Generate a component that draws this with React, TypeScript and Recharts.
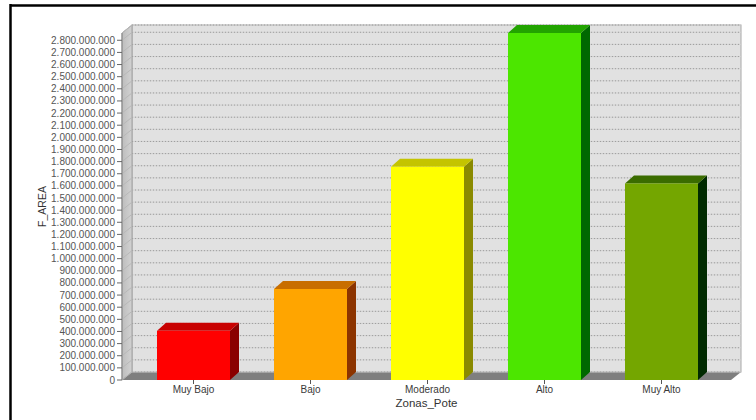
import React from "react";
import { BarChart, Bar, XAxis, YAxis, CartesianGrid } from "recharts";

// Zonas_Pote categories and their F_AREA totals
const categories = ["Muy Bajo", "Bajo", "Moderado", "Alto", "Muy Alto"];
const areas = [405000000, 750000000, 1757000000, 2860000000, 1620000000];
const yTicks = [
  0, 100000000, 200000000, 300000000, 400000000, 500000000, 600000000,
  700000000, 800000000, 900000000, 1000000000, 1100000000, 1200000000,
  1300000000, 1400000000, 1500000000, 1600000000, 1700000000, 1800000000,
  1900000000, 2000000000, 2100000000, 2200000000, 2300000000, 2400000000,
  2500000000, 2600000000, 2700000000, 2800000000,
];

// face colours of each 3D column: front / top / side
const FRONT = ["#ff0000", "#ffa500", "#ffff00", "#4ce600", "#74a600"];
const TOP = ["#c80000", "#c86e00", "#c4c400", "#22a400", "#3b6c00"];
const SIDE = ["#8a0000", "#8c3400", "#8a8a00", "#006800", "#002a00"];

const W = 756;
const H = 420;
// front face of the plot box
const PLOT = { left: 122, top: 33, right: 731, bottom: 380 };
// depth of the walls and of the columns
const WALL = { dx: 10, dy: 8 };
const BAR = { dx: 9, dy: 8 };
const FONT = '"Liberation Sans", Arial, sans-serif';

const data = categories.map((name, i) => ({ name, area: areas[i] }));

const fmtThousands = (v: number) =>
  String(v).replace(/\B(?=(\d{3})+(?!\d))/g, ".");

function Column3D(props: any) {
  const { x, y, width, height, index } = props;
  const { dx, dy } = BAR;
  const r = x + width;
  const b = y + height;
  return (
    <g>
      <path d={`M${r},${y} L${r + dx},${y - dy} L${r + dx},${b - dy} L${r},${b} Z`} fill={SIDE[index]} />
      <path d={`M${x},${y} L${x + dx},${y - dy} L${r + dx},${y - dy} L${r},${y} Z`} fill={TOP[index]} />
      <rect x={x} y={y} width={width} height={height} fill={FRONT[index]} />
    </g>
  );
}

// grid line: runs up the left wall, then across the back wall
function WallGridLine(p: any) {
  const { x1, x2, y1 } = p;
  const { dx, dy } = WALL;
  return (
    <g key={`g-${y1}`}>
      <line x1={x1} y1={y1} x2={x1 + dx} y2={y1 - dy} stroke="#b8b8b8" strokeWidth={1} />
      <line x1={x1 + dx} y1={y1 - dy} x2={x2 + dx} y2={y1 - dy} stroke="#d0d0d0" strokeWidth={1} />
      <line x1={x1 + dx} y1={y1 - dy} x2={x2 + dx} y2={y1 - dy} stroke="#9e9e9e" strokeWidth={1} strokeDasharray="1 2" />
    </g>
  );
}

function Walls() {
  const { left, top, right, bottom } = PLOT;
  const { dx, dy } = WALL;
  return (
    <svg width={W} height={H} style={{ position: "absolute", left: 0, top: 0 }}>
      <defs>
        <linearGradient id="leftWall" x1="0" y1="0" x2="1" y2="0">
          <stop offset="0" stopColor="#bdbdbd" />
          <stop offset="1" stopColor="#d2d2d2" />
        </linearGradient>
      </defs>
      <rect x={0} y={0} width={W} height={H} fill="#ffffff" />
      <line x1={10} y1={5.5} x2={W} y2={5.5} stroke="#000" strokeWidth={2.5} />
      <line x1={10.5} y1={4} x2={10.5} y2={H} stroke="#000" strokeWidth={2.5} />
      <rect
        x={left + dx}
        y={top - dy}
        width={right - left}
        height={bottom - top}
        fill="#e1e1e1"
        stroke="#a8a8a8"
      />
      <path
        d={`M${left},${top} L${left + dx},${top - dy} L${left + dx},${bottom - dy} L${left},${bottom} Z`}
        fill="url(#leftWall)"
        stroke="#a0a0a0"
      />
      <path
        d={`M${left},${bottom} L${left + dx},${bottom - dy} L${right + dx},${bottom - dy} L${right},${bottom} Z`}
        fill="#7f7f7f"
      />
    </svg>
  );
}

export default function App() {
  return (
    <div style={{ position: "absolute", left: 0, top: 0, width: W, height: H, background: "#fff" }}>
      <Walls />
      <div style={{ position: "absolute", left: 0, top: 0 }}>
        <BarChart
          width={W}
          height={H}
          data={data}
          barSize={73}
          margin={{ top: PLOT.top, right: W - PLOT.right, left: 10, bottom: 10 }}
        >
          <CartesianGrid vertical={false} horizontal={WallGridLine} />
          <XAxis
            dataKey="name"
            height={30}
            interval={0}
            padding={{ left: 13, right: 11 }}
            axisLine={false}
            tickSize={4}
            tickMargin={2}
            tickLine={{ stroke: "#555" }}
            tick={{ fontFamily: FONT, fontSize: 10, fill: "#3a3a3a" }}
            label={{
              content: ({ viewBox }: any) => (
                <text
                  x={viewBox.x + viewBox.width / 2}
                  y={viewBox.y + 27}
                  textAnchor="middle"
                  fontFamily={FONT}
                  fontSize={11.5}
                  fill="#333"
                >
                  Zonas_Pote
                </text>
              ),
            }}
          />
          <YAxis
            width={112}
            domain={[0, "dataMax"]}
            ticks={yTicks}
            interval={0}
            tickFormatter={fmtThousands}
            axisLine={{ stroke: "#8a8a8a" }}
            tickSize={5}
            tickMargin={2}
            tickLine={{ stroke: "#666" }}
            tick={{ fontFamily: FONT, fontSize: 10, fill: "#555" }}
            label={{
              content: ({ viewBox }: any) => {
                const cx = viewBox.x + 32;
                const cy = viewBox.y + viewBox.height / 2;
                return (
                  <text
                    x={cx}
                    y={cy}
                    transform={`rotate(-90, ${cx}, ${cy})`}
                    textAnchor="middle"
                    dominantBaseline="central"
                    fontFamily={FONT}
                    fontSize={10.5}
                    fill="#333"
                  >
                    F_AREA
                  </text>
                );
              },
            }}
          />
          <Bar dataKey="area" shape={Column3D} isAnimationActive={false} />
        </BarChart>
      </div>
    </div>
  );
}
